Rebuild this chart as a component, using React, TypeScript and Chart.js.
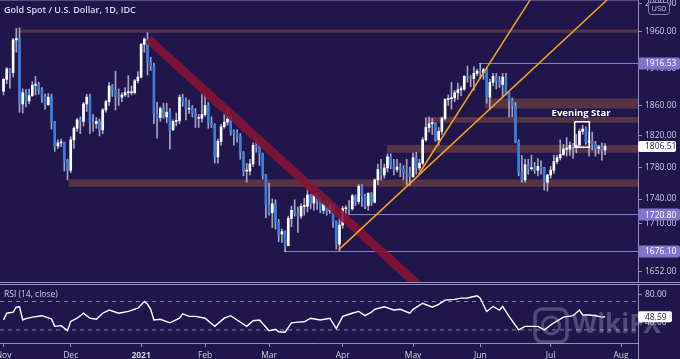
import React, { useEffect, useRef } from 'react';
import { Chart, registerables } from 'chart.js';

Chart.register(...registerables);

// ---------------- data ----------------
const chartTitle = 'Gold Spot / U.S. Dollar, 1D, IDC';
const rsiTitle = 'RSI (14, close)';

// daily candles, Nov 2 2020 .. Jul 26 2021 (trading days)
const openP = [
  1879, 1895, 1909, 1904, 1949, 1951, 1862, 1877, 1866, 1873, 1887, 1888, 1880, 1872, 1861, 1871, 1838, 1807, 1811, 1812, 1788,
  1776, 1815, 1830, 1841, 1839, 1862, 1871, 1838, 1836, 1839, 1828, 1854, 1865, 1886, 1881, 1872, 1871, 1874, 1877, 1877, 1877, 1893,
  1898, 1943, 1950, 1918, 1913, 1849, 1844, 1856, 1845, 1851, 1828, 1839, 1840, 1871, 1866, 1855, 1856, 1850, 1843, 1843,
  1848, 1860, 1837, 1834, 1793, 1813, 1832, 1838, 1842, 1826, 1824, 1819, 1799, 1775, 1775, 1784, 1808, 1806, 1797, 1770,
  1733, 1723, 1734, 1711, 1697, 1700, 1683, 1716, 1726, 1722, 1719, 1731, 1731, 1745, 1735, 1745, 1738, 1726, 1734, 1725, 1732, 1712, 1685,
  1708, 1728, 1729, 1728, 1744, 1737, 1756, 1744, 1732, 1747, 1736, 1764, 1777, 1770, 1779, 1793, 1783, 1777, 1780, 1778, 1773, 1772,
  1768, 1792, 1779, 1785, 1815, 1831, 1836, 1836, 1815, 1826, 1843, 1868, 1869, 1870, 1877, 1881, 1882, 1899, 1897, 1896, 1903,
  1906, 1904, 1908, 1871, 1891, 1899, 1893, 1888, 1898, 1877, 1866, 1859, 1812, 1774, 1764, 1783, 1778, 1779, 1776, 1781, 1779, 1761,
  1770, 1776, 1787, 1792, 1796, 1803, 1803, 1808, 1806, 1808, 1826, 1829, 1812, 1813, 1809, 1804, 1806, 1802,
];
const highP = [
  1896, 1911, 1910, 1951, 1965, 1966, 1882, 1881, 1882, 1892, 1899, 1891, 1884, 1875, 1876, 1875, 1839, 1815, 1816, 1812, 1790,
  1819, 1832, 1843, 1845, 1864, 1875, 1875, 1848, 1844, 1842, 1856, 1867, 1891, 1888, 1906, 1882, 1877, 1884, 1900, 1886, 1895, 1905,
  1944, 1952, 1959, 1925, 1917, 1864, 1858, 1863, 1863, 1856, 1841, 1850, 1874, 1875, 1870, 1867, 1860, 1856, 1848, 1875,
  1875, 1864, 1845, 1836, 1816, 1835, 1848, 1855, 1847, 1828, 1828, 1823, 1800, 1785, 1790, 1811, 1816, 1810, 1798, 1771,
  1760, 1740, 1739, 1715, 1703, 1701, 1719, 1731, 1739, 1730, 1734, 1741, 1755, 1746, 1746, 1747, 1742, 1737, 1738, 1736, 1733, 1713, 1717,
  1731, 1732, 1738, 1746, 1745, 1758, 1758, 1746, 1748, 1748, 1765, 1784, 1790, 1784, 1797, 1797, 1790, 1790, 1785, 1782, 1790, 1780,
  1798, 1799, 1790, 1818, 1844, 1845, 1843, 1837, 1831, 1845, 1869, 1874, 1891, 1880, 1890, 1886, 1900, 1913, 1900, 1912, 1909,
  1916.5, 1910, 1910, 1895, 1903, 1903, 1899, 1903, 1903, 1877, 1870, 1864, 1815, 1795, 1790, 1790, 1795, 1786, 1791, 1788, 1780, 1771,
  1781, 1795, 1795, 1815, 1809, 1818, 1812, 1810, 1822, 1829, 1834, 1832, 1825, 1825, 1813, 1808, 1811, 1810,
];
const lowP = [
  1874, 1889, 1883, 1898, 1932, 1851, 1850, 1858, 1862, 1872, 1874, 1875, 1864, 1855, 1860, 1829, 1800, 1804, 1806, 1775, 1764,
  1773, 1804, 1826, 1823, 1833, 1852, 1823, 1826, 1830, 1820, 1823, 1851, 1860, 1872, 1854, 1860, 1865, 1872, 1871, 1874, 1875, 1890,
  1897, 1932, 1901, 1907, 1836, 1817, 1839, 1843, 1837, 1803, 1827, 1833, 1836, 1859, 1841, 1849, 1845, 1831, 1831, 1838,
  1846, 1830, 1831, 1785, 1785, 1808, 1830, 1834, 1821, 1808, 1812, 1790, 1769, 1761, 1770, 1781, 1799, 1782, 1765, 1717,
  1720, 1705, 1703, 1688, 1687, 1676, 1683, 1706, 1719, 1699, 1716, 1720, 1724, 1728, 1726, 1727, 1723, 1722, 1720, 1722, 1705, 1679, 1677,
  1704, 1721, 1722, 1726, 1732, 1734, 1731, 1728, 1726, 1732, 1735, 1758, 1764, 1766, 1774, 1778, 1770, 1774, 1768, 1764, 1758, 1757,
  1767, 1771, 1776, 1783, 1813, 1825, 1822, 1813, 1808, 1822, 1841, 1860, 1855, 1865, 1868, 1873, 1880, 1891, 1885, 1880, 1900,
  1896, 1895, 1863, 1855, 1886, 1882, 1884, 1871, 1874, 1845, 1845, 1811, 1769, 1761, 1761, 1771, 1776, 1772, 1769, 1771, 1751, 1750,
  1766, 1772, 1784, 1789, 1795, 1794, 1795, 1791, 1798, 1806, 1822, 1809, 1794, 1802, 1794, 1797, 1789, 1796,
];
const closeP = [
  1895, 1909, 1904, 1949, 1951, 1862, 1877, 1866, 1873, 1887, 1888, 1880, 1872, 1861, 1871, 1838, 1807, 1811, 1812, 1788, 1776,
  1815, 1830, 1841, 1839, 1862, 1871, 1838, 1836, 1839, 1828, 1854, 1865, 1886, 1881, 1872, 1871, 1874, 1877, 1877, 1877, 1893, 1898,
  1943, 1950, 1918, 1913, 1849, 1844, 1856, 1845, 1851, 1828, 1839, 1840, 1871, 1866, 1855, 1856, 1850, 1843, 1843, 1848,
  1860, 1837, 1834, 1793, 1813, 1832, 1838, 1842, 1826, 1824, 1819, 1799, 1775, 1775, 1784, 1808, 1806, 1797, 1770, 1733,
  1723, 1734, 1711, 1697, 1700, 1683, 1716, 1726, 1722, 1719, 1731, 1731, 1745, 1735, 1745, 1738, 1726, 1734, 1725, 1732, 1712, 1685, 1708,
  1728, 1729, 1728, 1744, 1737, 1756, 1744, 1732, 1747, 1736, 1764, 1777, 1770, 1779, 1793, 1783, 1777, 1780, 1778, 1773, 1772, 1768,
  1792, 1779, 1785, 1815, 1831, 1836, 1836, 1815, 1826, 1843, 1868, 1869, 1870, 1877, 1881, 1882, 1899, 1897, 1896, 1903, 1906,
  1904, 1908, 1871, 1891, 1899, 1893, 1888, 1898, 1877, 1866, 1859, 1812, 1774, 1764, 1783, 1778, 1779, 1776, 1781, 1779, 1761, 1770,
  1776, 1787, 1792, 1796, 1803, 1803, 1808, 1806, 1808, 1826, 1829, 1812, 1813, 1809, 1804, 1806, 1802, 1806.51,
];
const lastPrice = 1806.51;

// RSI (14, close) read at bar indices
const rsiIdx = [0, 1, 3, 4, 5, 6, 7, 9, 12, 14, 15, 16, 18, 20, 21, 23, 25, 27, 29, 31, 33, 36, 39, 42, 44, 45, 46, 47, 49, 52, 55, 56, 58, 60, 63, 66, 69, 71, 73, 76, 78, 80, 83, 85, 86, 88, 90, 92, 94, 96, 99, 102, 104, 106, 109, 111, 113, 115, 116, 119, 122, 124, 127, 128, 131, 134, 136, 138, 141, 143, 145, 147, 148, 149, 151, 153, 155, 156, 158, 161, 163, 165, 167, 169, 172, 175, 178, 180, 181, 183, 185, 187, 188];
const rsiVal = [44, 53.5, 55, 62, 62.5, 44, 46, 48, 50, 47, 45.5, 35, 36, 29, 42, 46.5, 53.5, 46.5, 45, 53.5, 58, 53.5, 56, 60.6, 70, 66, 59, 44, 45, 40, 46.5, 52.5, 49, 49, 46.5, 35, 46.5, 50, 44, 35, 43, 44, 29, 31, 27.5, 26.7, 40, 41, 41.5, 46.5, 44, 46.5, 32, 49, 53.5, 56, 50, 55, 59, 62.5, 58, 59, 53.5, 59, 67.5, 62, 66, 72, 73, 74.7, 75, 77, 78, 74.7, 56, 63, 58, 63, 49, 30, 35, 35, 35, 30, 40, 48, 50, 58, 51, 51, 50, 48, 48.59];
const rsiLast = 48.59;
const rsiLevels = [70, 30];

// axis ticks
const monthIdx = [0, 21, 43, 63, 83, 106, 128, 149, 171, 193];
const monthLbl = ['Nov', 'Dec', '2021', 'Feb', 'Mar', 'Apr', 'May', 'Jun', 'Jul', 'Aug'];
const priceTicks = [2000, 1960, 1910, 1860, 1820, 1780, 1740, 1710, 1652];
const rsiTicks = [80, 40];

// drawings
const zoneTop = [1963.5, 1764.5, 1808.2, 1844.9, 1869.3];
const zoneBottom = [1959.0, 1755.2, 1798.3, 1837.1, 1856.1];
const zoneStart = [5.2, 20.25, 119.75, 132.4, 150.5];
const levelPrice = [1916.53, 1720.8, 1676.1];
const levelStart = [148.6, 107.6, 87.7];
const redBandX = [45.2, 135];
const redBandY = [1950.2, 1618];
const supportX = [[104.8, 198.9], [129.8, 170.7]];
const supportY = [[1678.4, 2049.6], [1771.3, 2049.6]];
const patternBoxX = [178.5, 183.1];
const patternBoxY = [1838.4, 1805.5];
const patternLabel = 'Evening Star';
const patternLabelAt = [180.5, 1850];

// ---------------- style ----------------
const BG = '#20164c';
const X_MIN = -1.1;
const X_MAX = 198.3;
const P_MIN = 1638.9;
const P_MAX = 2005.2;
const R_MIN = 11.6;
const R_MAX = 94.6;
const AXIS = 'rgba(170,165,205,0.85)';
const TXT = '#d0cee2';
const FONT = '"Open Sans", sans-serif';
const BADGE = '#8373cf';

Chart.defaults.font.family = FONT;

const bgPlugin = {
  id: 'bgFill',
  beforeDraw(chart: any) {
    const { ctx, width, height } = chart;
    ctx.save();
    ctx.fillStyle = BG;
    ctx.fillRect(0, 0, width, height);
    ctx.restore();
  },
};

function badge(ctx: any, text: string, yPix: number, bg: string, fg: string, x1 = 680, h = 12) {
  ctx.fillStyle = bg;
  ctx.beginPath();
  ctx.roundRect(638, yPix - h / 2, x1 - 638, h, 2);
  ctx.fill();
  ctx.fillStyle = fg;
  ctx.font = `8.5px ${FONT}`;
  ctx.textAlign = 'left';
  ctx.textBaseline = 'middle';
  ctx.fillText(text, 645, yPix + 0.5);
}

const mainDeco = {
  id: 'mainDeco',
  afterDatasetsDraw(chart: any) {
    const { ctx, scales } = chart;
    ctx.save();
    ctx.font = `bold 9.5px ${FONT}`;
    ctx.fillStyle = '#ffffff';
    ctx.textAlign = 'center';
    ctx.textBaseline = 'middle';
    ctx.fillText(patternLabel, scales.x.getPixelForValue(patternLabelAt[0]), scales.y.getPixelForValue(patternLabelAt[1]));
    ctx.restore();
  },
  afterDraw(chart: any) {
    const { ctx, scales, width, height } = chart;
    const y = scales.y;
    ctx.save();
    ctx.strokeStyle = AXIS;
    ctx.lineWidth = 1;
    ctx.beginPath();
    ctx.moveTo(0, height - 0.5);
    ctx.lineTo(width, height - 0.5);
    ctx.stroke();
    ctx.strokeStyle = 'rgba(150,140,195,0.45)';
    ctx.beginPath();
    ctx.moveTo(0, 0.5);
    ctx.lineTo(638, 0.5);
    ctx.stroke();

    ctx.font = `600 9px ${FONT}`;
    ctx.fillStyle = '#dddbea';
    ctx.textAlign = 'left';
    ctx.textBaseline = 'middle';
    ctx.fillText(chartTitle, 4, 10);

    levelPrice.forEach((p) => badge(ctx, p.toFixed(2), y.getPixelForValue(p), BADGE, '#ffffff'));
    badge(ctx, lastPrice.toFixed(2), y.getPixelForValue(lastPrice), '#ffffff', '#1c1640', 676, 11);

    // currency badge
    ctx.fillStyle = BG;
    ctx.strokeStyle = 'rgba(150,145,185,0.9)';
    ctx.beginPath();
    ctx.roundRect(648.5, 2.5, 21, 12, 3);
    ctx.fill();
    ctx.stroke();
    ctx.fillStyle = '#c9c7dc';
    ctx.font = `7.5px ${FONT}`;
    ctx.textAlign = 'center';
    ctx.fillText('USD', 659, 9);
    ctx.restore();
  },
};

const rsiDeco = {
  id: 'rsiDeco',
  afterDraw(chart: any) {
    const { ctx, scales, width, chartArea, height } = chart;
    ctx.save();
    ctx.strokeStyle = AXIS;
    ctx.lineWidth = 1;
    ctx.beginPath();
    ctx.moveTo(0, chartArea.top + 0.5);
    ctx.lineTo(width, chartArea.top + 0.5);
    ctx.moveTo(chartArea.right + 0.5, chartArea.bottom);
    ctx.lineTo(chartArea.right + 0.5, height);
    ctx.stroke();

    ctx.font = `8.5px ${FONT}`;
    ctx.fillStyle = TXT;
    ctx.textAlign = 'left';
    ctx.textBaseline = 'middle';
    ctx.fillText(rsiTitle, 4, 12);

    // watermark
    ctx.globalAlpha = 0.3;
    ctx.strokeStyle = '#c8c8dc';
    ctx.lineWidth = 3.5;
    ctx.beginPath();
    ctx.roundRect(535, 26, 32, 33, 7);
    ctx.stroke();
    ctx.lineWidth = 3;
    ctx.beginPath();
    ctx.arc(551, 42.5, 8.5, 0, Math.PI * 2);
    ctx.stroke();
    ctx.fillStyle = '#c8c8dc';
    ctx.font = `bold 26px ${FONT}`;
    ctx.textAlign = 'left';
    ctx.fillText('WikiFX', 572, 43);
    ctx.globalAlpha = 1;

    badge(ctx, rsiLast.toFixed(2), scales.y.getPixelForValue(rsiLast), '#ffffff', '#1c1640', 672, 11);
    ctx.restore();
  },
};

const yAxisFit = (s: any) => {
  s.width = 42;
  s.paddingTop = 0;
  s.paddingBottom = 0;
};

export default function App() {
  const mainRef = useRef<HTMLCanvasElement>(null);
  const rsiRef = useRef<HTMLCanvasElement>(null);

  useEffect(() => {
    const idx = closeP.map((_, i) => i);
    const bodies = idx.map((i) => ({ x: i, y: [openP[i], closeP[i]] }));
    const wicks = idx.map((i) => ({ x: i, y: [lowP[i], highP[i]] }));
    const bodyColors = idx.map((i) => (closeP[i] >= openP[i] ? '#ffffff' : '#3b7ddd'));

    const zoneSets = zoneTop.map((t, k) => ({
      type: 'line',
      data: [{ x: zoneStart[k], y: t }, { x: X_MAX, y: t }],
      borderWidth: 0,
      pointRadius: 0,
      fill: { value: zoneBottom[k] },
      backgroundColor: 'rgba(128,76,66,0.56)',
      order: 20,
      clip: 0,
    }));
    const levelSets = levelPrice.map((p, k) => ({
      type: 'line',
      data: [{ x: levelStart[k], y: p }, { x: X_MAX, y: p }],
      borderColor: 'rgba(168,158,228,0.8)',
      borderWidth: 1,
      pointRadius: 0,
      fill: false,
      order: 15,
      clip: 0,
    }));
    const supportSets = supportX.map((xs, k) => ({
      type: 'line',
      data: [{ x: xs[0], y: supportY[k][0] }, { x: xs[1], y: supportY[k][1] }],
      borderColor: '#f7a21b',
      borderWidth: 1.5,
      pointRadius: 0,
      fill: false,
      order: 0,
      clip: 0,
    }));

    const main = new Chart(mainRef.current as HTMLCanvasElement, {
      type: 'bar',
      data: {
        datasets: [
          ...zoneSets,
          ...levelSets,
          {
            type: 'bar',
            data: wicks,
            backgroundColor: 'rgba(200,198,222,0.8)',
            barThickness: 1,
            grouped: false,
            order: 6,
          },
          {
            type: 'bar',
            data: bodies,
            backgroundColor: bodyColors,
            barThickness: 2,
            minBarLength: 1,
            grouped: false,
            order: 5,
          },
          {
            type: 'line',
            data: [{ x: redBandX[0], y: redBandY[0] }, { x: redBandX[1], y: redBandY[1] }],
            borderColor: 'rgba(132,20,52,0.9)',
            borderWidth: 9,
            pointRadius: 0,
            fill: false,
            order: 2,
            clip: 0,
          },
          ...supportSets,
          {
            type: 'line',
            data: [
              { x: patternBoxX[0], y: patternBoxY[0] },
              { x: patternBoxX[1], y: patternBoxY[0] },
              { x: patternBoxX[1], y: patternBoxY[1] },
              { x: patternBoxX[0], y: patternBoxY[1] },
              { x: patternBoxX[0], y: patternBoxY[0] },
            ],
            borderColor: '#ffffff',
            borderWidth: 1.5,
            pointRadius: 0,
            fill: false,
            order: 1,
          },
        ] as any,
      },
      options: {
        animation: false,
        responsive: false,
        events: [],
        layout: { padding: 0 },
        plugins: { legend: { display: false }, tooltip: { enabled: false } },
        scales: {
          x: { type: 'linear', min: X_MIN, max: X_MAX, display: false, offset: false },
          y: {
            type: 'logarithmic',
            position: 'right',
            min: P_MIN,
            max: P_MAX,
            afterFit: yAxisFit,
            afterBuildTicks: (s: any) => {
              s.ticks = priceTicks.map((v) => ({ value: v }));
            },
            ticks: {
              callback: (v: any) => Number(v).toFixed(2),
              color: TXT,
              font: { size: 8.5, family: FONT },
              padding: 3,
              autoSkip: false,
            },
            grid: { drawOnChartArea: false, drawTicks: true, tickLength: 4, color: AXIS },
            border: { display: true, color: AXIS },
          },
        },
      } as any,
      plugins: [bgPlugin, mainDeco],
    });

    const rsi = new Chart(rsiRef.current as HTMLCanvasElement, {
      type: 'line',
      data: {
        datasets: [
          {
            data: rsiIdx.map((x, k) => ({ x, y: rsiVal[k] })),
            borderColor: '#ffffff',
            borderWidth: 1.4,
            pointRadius: 0,
            fill: false,
            tension: 0,
          },
          ...rsiLevels.map((lv) => ({
            data: [{ x: X_MIN, y: lv }, { x: X_MAX, y: lv }],
            borderColor: 'rgba(170,168,198,0.75)',
            borderWidth: 1,
            borderDash: [4, 4],
            pointRadius: 0,
            fill: false,
          })),
        ],
      },
      options: {
        animation: false,
        responsive: false,
        events: [],
        layout: { padding: { top: 1, left: 0, right: 0, bottom: 0 } },
        plugins: { legend: { display: false }, tooltip: { enabled: false } },
        scales: {
          x: {
            type: 'linear',
            min: X_MIN,
            max: X_MAX,
            offset: false,
            afterFit: (s: any) => {
              s.height = 16;
              s.paddingLeft = 0;
              s.paddingRight = 0;
            },
            afterBuildTicks: (s: any) => {
              s.ticks = monthIdx.map((v) => ({ value: v }));
            },
            ticks: {
              callback: (v: any) => monthLbl[monthIdx.indexOf(Number(v))],
              color: TXT,
              font: (c: any) => ({
                size: 8.5,
                family: FONT,
                weight: c.tick && monthLbl[monthIdx.indexOf(c.tick.value)] === '2021' ? 'bold' : 'normal',
              }),
              padding: 3,
              maxRotation: 0,
              autoSkip: false,
            },
            grid: { drawOnChartArea: false, drawTicks: true, tickLength: 4, color: AXIS },
            border: { display: true, color: AXIS },
          },
          y: {
            type: 'linear',
            position: 'right',
            min: R_MIN,
            max: R_MAX,
            afterFit: yAxisFit,
            afterBuildTicks: (s: any) => {
              s.ticks = rsiTicks.map((v) => ({ value: v }));
            },
            ticks: {
              callback: (v: any) => Number(v).toFixed(2),
              color: TXT,
              font: { size: 8.5, family: FONT },
              padding: 3,
              autoSkip: false,
            },
            grid: { drawOnChartArea: false, drawTicks: true, tickLength: 4, color: AXIS },
            border: { display: true, color: AXIS },
          },
        },
      } as any,
      plugins: [bgPlugin, rsiDeco],
    });

    return () => {
      main.destroy();
      rsi.destroy();
    };
  }, []);

  return (
    <div style={{ position: 'fixed', left: 0, top: 0, width: 680, height: 359, background: BG, overflow: 'hidden' }}>
      <canvas ref={mainRef} width={680} height={283} style={{ position: 'absolute', left: 0, top: 0, display: 'block' }} />
      <canvas ref={rsiRef} width={680} height={76} style={{ position: 'absolute', left: 0, top: 283, display: 'block' }} />
    </div>
  );
}
